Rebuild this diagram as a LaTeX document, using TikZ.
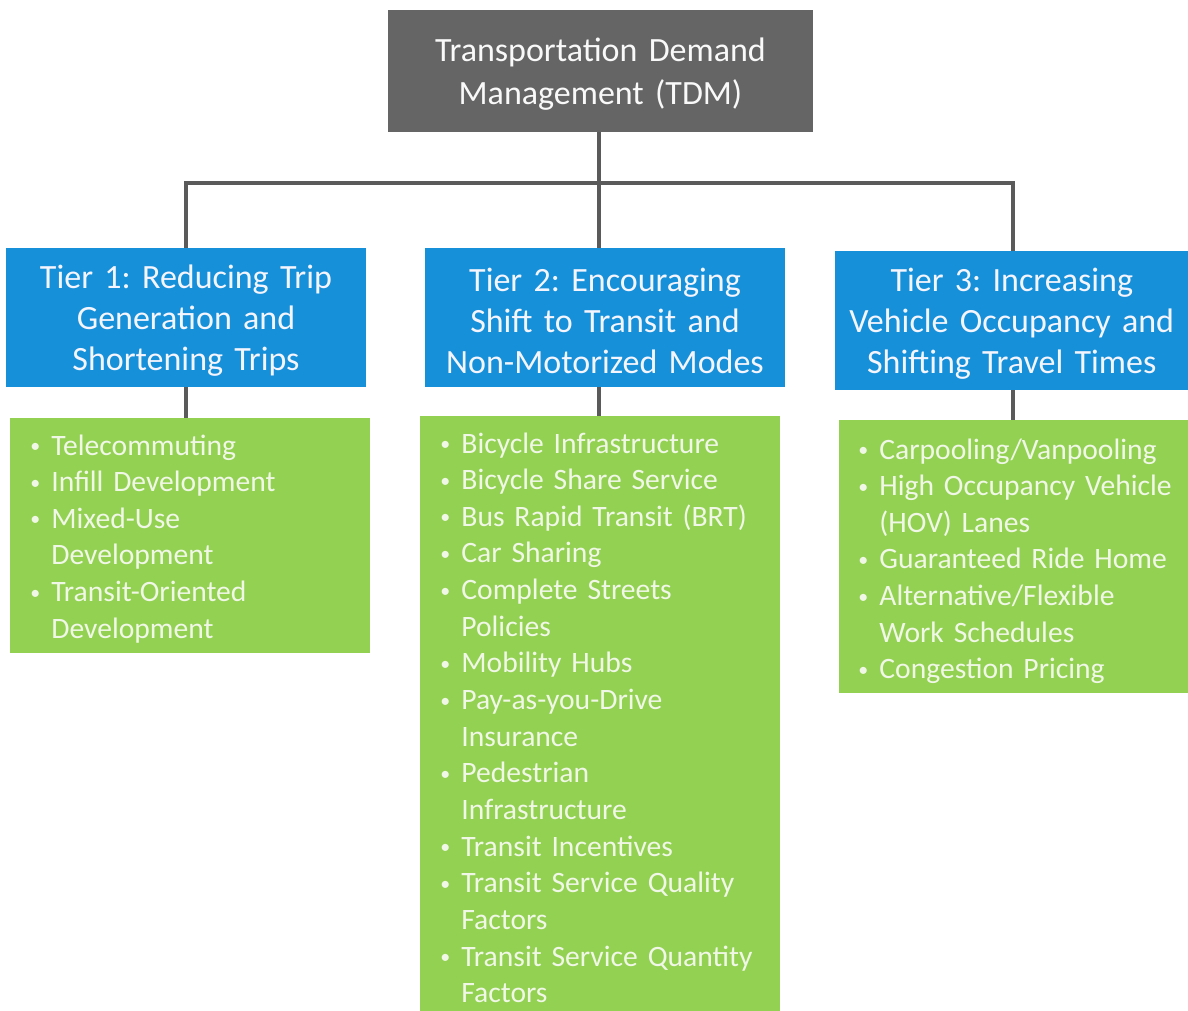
\documentclass[tikz,border=0pt]{standalone}
\usepackage{fontspec}
\setmainfont{Carlito}
\frenchspacing
\definecolor{tdmgray}{HTML}{656565}
\definecolor{tierblue}{HTML}{1590D9}
\definecolor{listgreen}{HTML}{93D152}
\definecolor{conngray}{HTML}{5A5A5A}
\definecolor{listtext}{HTML}{F1F7E6}
\newcommand{\bul}{\makebox[11pt][l]{\hspace*{0.5pt}\raisebox{1.2pt}{\fontsize{10}{10}\selectfont •}}}
\newcommand{\cont}{\hspace*{11pt}}
\begin{document}
\begin{tikzpicture}[x=0.5pt,y=-0.5pt,
  titlebox/.style={fill=tdmgray, inner sep=0pt,
    minimum width=212.5pt, minimum height=61pt},
  titletxt/.style={text=white!95!gray, inner sep=0pt, text width=200pt, align=center,
    font=\fontsize{17}{21.5}\selectfont, yshift=-1.5pt},
  tierbox/.style={fill=tierblue, inner sep=0pt,
    minimum width=180pt, minimum height=69.5pt},
  tiertxt/.style={text=white!96!blue, inner sep=0pt, text width=176pt, align=center,
    font=\fontsize{17}{20.5}\selectfont, yshift=-1.5pt},
  listbox/.style={fill=listgreen, inner sep=0pt},
  listtxt/.style={text=listtext, inner sep=0pt, anchor=base west, text width=170pt,
    align=left, font=\fontsize{14.8}{18.33}\selectfont},
  conn/.style={draw=conngray, line width=2pt}]
\useasboundingbox (0,0) rectangle (1188,1011);

% title
\node[titlebox] (title) at (600.5,71) {};
\node[titletxt] (titlet) at (title.center) {Transportation Demand\\Management (TDM)};

% tiers
\node[tierbox] (tier1) at (186,317.5) {};
\node[tierbox] (tier2) at (605,317.5) {};
\node[tierbox, minimum width=176.5pt] (tier3) at (1011.75,320.5) {};
\node[tiertxt] (tier1t) at (tier1.center) {Tier 1: Reducing Trip\\Generation and\\Shortening Trips};
\node[tiertxt] (tier2t) at (tier2.center) {Tier 2: Encouraging\\Shift to Transit and\\Non-Motorized Modes};
\node[tiertxt] (tier3t) at (tier3.center) {Tier 3: Increasing\\Vehicle Occupancy and\\Shifting Travel Times};

% green boxes
\node[listbox, minimum width=180pt, minimum height=117.5pt] (list1) at (190,535.5) {};
\node[listbox, minimum width=180pt, minimum height=297.5pt] (list2) at (600,713.5) {};
\node[listbox, minimum width=174.5pt, minimum height=136.5pt] (list3) at (1013.5,556.5) {};

% connectors
\coordinate (hub) at (599,183);
\coordinate (j1) at (186,183);
\coordinate (j3) at (1013,183);
\draw[conn] (title.south -| hub) -- (tier2.north -| hub);
\draw[conn] (tier1.north -| j1) -- (j1) -- (j3) -- (tier3.north -| j3);
\draw[conn] (tier1.south -| j1) -- (list1.north -| j1);
\draw[conn] (tier2.south -| hub) -- (list2.north -| hub);
\draw[conn] (tier3.south -| j3) -- (list3.north -| j3);

% list texts
\node[listtxt] (l1txt) at (29,455) {\bul Telecommuting\\
\bul Infill Development\\
\bul Mixed-Use\\
\cont Development\\
\bul Transit-Oriented\\
\cont Development};

\node[listtxt] (l2txt) at (439,453) {\bul Bicycle Infrastructure\\
\bul Bicycle Share Service\\
\bul Bus Rapid Transit (BRT)\\
\bul Car Sharing\\
\bul Complete Streets\\
\cont Policies\\
\bul Mobility Hubs\\
\bul Pay-as-you-Drive\\
\cont Insurance\\
\bul Pedestrian\\
\cont Infrastructure\\
\bul Transit Incentives\\
\bul Transit Service Quality\\
\cont Factors\\
\bul Transit Service Quantity\\
\cont Factors};

\node[listtxt] (l3txt) at (857,459) {\bul Carpooling/Vanpooling\\
\bul High Occupancy Vehicle\\
\cont (HOV) Lanes\\
\bul Guaranteed Ride Home\\
\bul Alternative/Flexible\\
\cont Work Schedules\\
\bul Congestion Pricing};
\end{tikzpicture}
\end{document}
